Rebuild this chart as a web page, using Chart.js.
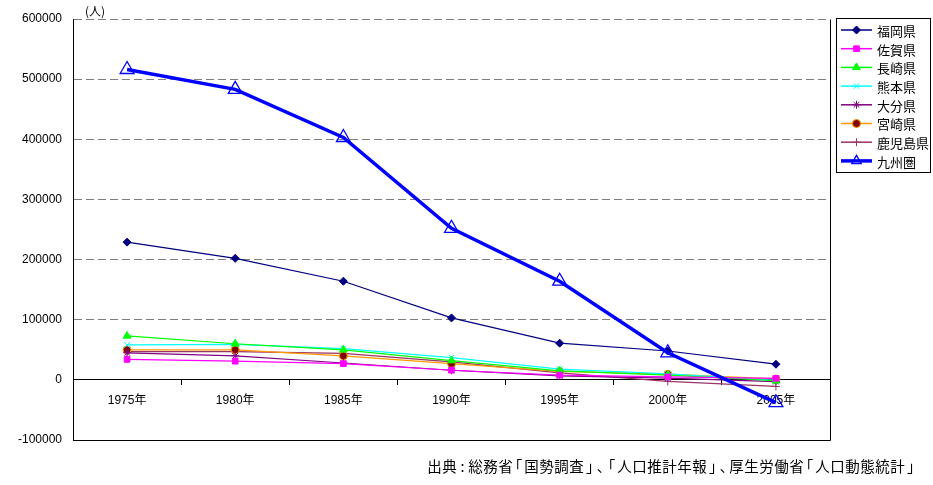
<!DOCTYPE html>
<html lang="ja">
<head>
<meta charset="utf-8">
<title>九州圏 人口推移</title>
<script src="https://cdn.jsdelivr.net/npm/chart.js@4"></script>
<style>
  html, body { margin: 0; padding: 0; background: #ffffff; }
  #chartBox { width: 933px; height: 485px; }
</style>
</head>
<body>
<div id="chartBox"><canvas id="chart1" width="933" height="485"></canvas></div>
<script>
// data (人)
const years = ['1975年', '1980年', '1985年', '1990年', '1995年', '2000年', '2005年'];
const fukuoka = [229000, 202000, 164000, 103000, 61000, 48000, 26000];
const saga = [34000, 31000, 27000, 16000, 8000, 5000, 2500];
const nagasaki = [73000, 60000, 50000, 32000, 15000, 8000, -1500];
const kumamoto = [58000, 59000, 52000, 37000, 18000, 10000, -1000];
const oita = [45000, 40000, 28000, 16000, 6500, 3000, -3000];
const miyazaki = [50000, 50000, 40000, 27000, 14000, 9500, 1500];
const kagoshima = [47000, 47000, 44000, 30000, 11500, -2500, -11000];
const kyushu = [516000, 483000, 403000, 252000, 164000, 45000, -38000];

const yTicks = [-100000, 0, 100000, 200000, 300000, 400000, 500000, 600000];
const unitLabel = '(人)';
const sourceText = '出典:総務省｢国勢調査｣､｢人口推計年報｣､厚生労働省｢人口動態統計｣';
const narrowChars = ':｢｣､';

const fontLatin = '"Liberation Sans", Arial, "Noto Sans CJK JP", sans-serif';
const fontJp = '"Noto Sans CJK JP", "Liberation Sans", sans-serif';

function series(label, data, color, style, fill, radius) {
  return {
    label: label,
    data: data,
    borderColor: color,
    backgroundColor: fill,
    borderWidth: 1.2,
    pointStyle: style,
    pointRadius: radius,
    pointHoverRadius: radius,
    pointBorderColor: color,
    pointBackgroundColor: fill,
    pointBorderWidth: 1,
    tension: 0
  };
}

let datasets = [
  series('福岡県', fukuoka, '#000080', 'rectRot', '#000080', 4),
  series('佐賀県', saga, '#ff00ff', 'rect', '#ff00ff', 4),
  series('長崎県', nagasaki, '#00ff00', 'triangle', '#00ff00', 4.5),
  series('熊本県', kumamoto, '#00ffff', 'crossRot', '#00ffff', 4),
  series('大分県', oita, '#800080', 'star', '#800080', 4),
  series('宮崎県', miyazaki, '#ff9900', 'circle', '#800000', 4),
  series('鹿児島県', kagoshima, '#993366', 'cross', '#993366', 4),
  series('九州圏', kyushu, '#0000ff', 'triangle', 'rgba(255,255,255,0)', 8)
];
datasets[7].borderWidth = 3.5;
datasets[7].pointBorderWidth = 1.3;
datasets[7].order = -1;

// frame around the plot area
const framePlugin = {
  id: 'frame',
  beforeDatasetsDraw(chart) {
    const a = chart.chartArea;
    const ctx = chart.ctx;
    ctx.save();
    ctx.strokeStyle = '#000000';
    ctx.lineWidth = 1;
    ctx.beginPath();
    ctx.moveTo(Math.round(a.left) + 0.5, Math.round(a.top));
    ctx.lineTo(Math.round(a.left) + 0.5, Math.round(a.bottom) + 0.5);
    ctx.lineTo(Math.round(a.right) + 0.5, Math.round(a.bottom) + 0.5);
    ctx.lineTo(Math.round(a.right) + 0.5, Math.round(a.top) + 0.5);
    ctx.stroke();
    ctx.restore();
  }
};

// source line, drawn char by char so the half-width brackets keep their cell
function drawSource(ctx, text, rightX, y) {
  const fullW = 15, halfW = 11;
  let total = 0;
  for (const ch of text) total += narrowChars.includes(ch) ? halfW : fullW;
  let x = rightX - total;
  ctx.textAlign = 'center';
  for (const ch of text) {
    const w = narrowChars.includes(ch) ? halfW : fullW;
    ctx.fillText(ch, x + w / 2, y);
    x += w;
  }
}

// legend box + unit + source
const legendPlugin = {
  id: 'boxLegend',
  afterDraw(chart) {
    const ctx = chart.ctx;
    const boxX = 836.5, boxY = 18.5, boxW = 94, boxH = 154;
    ctx.save();
    ctx.fillStyle = '#ffffff';
    ctx.fillRect(boxX, boxY, boxW, boxH);
    ctx.strokeStyle = '#000000';
    ctx.lineWidth = 1;
    ctx.strokeRect(boxX, boxY, boxW, boxH);

    ctx.font = '13px ' + fontJp;
    ctx.textBaseline = 'middle';
    ctx.textAlign = 'left';
    for (let i = 0; i < datasets.length; i++) {
      const ds = datasets[i];
      const y = 30 + i * 18.7;
      ctx.strokeStyle = ds.borderColor;
      ctx.lineWidth = i == 7 ? 3.5 : 1.5;
      ctx.beginPath();
      ctx.moveTo(841, y);
      ctx.lineTo(872, y);
      ctx.stroke();
      ctx.fillStyle = ds.pointBackgroundColor;
      ctx.strokeStyle = ds.pointBorderColor;
      ctx.lineWidth = ds.pointBorderWidth;
      Chart.helpers.drawPoint(ctx, {
        pointStyle: ds.pointStyle,
        radius: i == 7 ? 5.5 : ds.pointRadius,
        rotation: 0,
        borderWidth: ds.pointBorderWidth
      }, 856.5, y);
      ctx.fillStyle = '#000000';
      ctx.fillText(ds.label, 877, y + 1);
    }

    ctx.font = '12px ' + fontJp;
    ctx.textAlign = 'center';
    ctx.fillText(unitLabel, 95, 11);

    ctx.font = '14.5px ' + fontJp;
    drawSource(ctx, sourceText, 916, 466);
    ctx.restore();
  }
};

const ctx = document.getElementById('chart1');
const myChart = new Chart(ctx, {
  type: 'line',
  data: {
    labels: years,
    datasets: datasets
  },
  options: {
    responsive: false,
    animation: false,
    layout: {
      padding: { top: 19, right: 103, bottom: 45, left: 0 }
    },
    plugins: {
      legend: { display: false },
      tooltip: { enabled: false }
    },
    scales: {
      x: {
        type: 'category',
        position: { y: 0 },
        offset: true,
        grid: {
          display: true,
          offset: true,
          drawOnChartArea: false,
          drawTicks: true,
          tickLength: 5,
          color: '#000000'
        },
        border: { display: true, color: '#000000', width: 1 },
        ticks: {
          color: '#000000',
          padding: 9,
          maxRotation: 0,
          autoSkip: false,
          font: { family: fontLatin, size: 12 }
        }
      },
      y: {
        min: -100000,
        max: 600000,
        afterFit(scale) {
          scale.width = 73;
        },
        afterBuildTicks(scale) {
          scale.ticks = yTicks.map(v => ({ value: v }));
        },
        grid: {
          drawTicks: false,
          color: c => (c.tick && (c.tick.value === 0 || c.tick.value === -100000)) ? 'rgba(0,0,0,0)' : '#808080',
          lineWidth: 1
        },
        border: { display: true, color: '#000000', width: 1, dash: [8, 4] },
        ticks: {
          color: '#000000',
          padding: 11,
          font: { family: fontLatin, size: 12 },
          callback: v => String(v)
        }
      }
    }
  },
  plugins: [framePlugin, legendPlugin]
});
</script>
</body>
</html>
